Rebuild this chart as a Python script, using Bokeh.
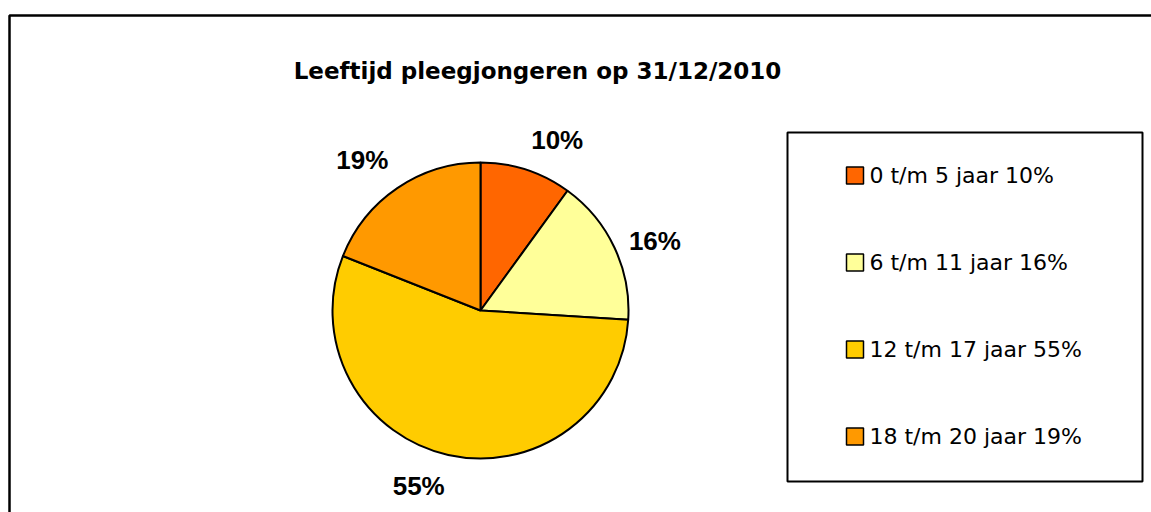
import numpy as np
from bokeh.plotting import figure
from bokeh.models import ColumnDataSource, Range1d
from bokeh.core.properties import value
from bokeh.embed import file_html
from bokeh.resources import INLINE

# ---------------- data ----------------
title = "Leeftijd pleegjongeren op 31/12/2010"
categories = ["0 t/m 5 jaar", "6 t/m 11 jaar", "12 t/m 17 jaar", "18 t/m 20 jaar"]
percentages = [10, 16, 55, 19]
colors = ["#FF6600", "#FFFF99", "#FFCC00", "#FF9900"]

# ---------------- layout ----------------
W, H = 1151, 512
TITLE_FONT = "DejaVu Sans"
LEGEND_FONT = "DejaVu Sans"
LABEL_FONT = "Liberation Sans"

p = figure(width=W, height=H, x_range=Range1d(0, W), y_range=Range1d(0, H),
           output_backend="svg", toolbar_location=None, min_border=0,
           x_axis_location=None, y_axis_location=None)
p.grid.visible = False
p.outline_line_color = None
p.background_fill_color = "white"
p.border_fill_color = "white"

# outer chart border (cropped at right and bottom)
p.line(x=[9, 9, W + 10], y=[-10, 497, 497], line_color="black", line_width=2.5)

# title
p.text(x=[537], y=[442], text=[title], text_font=value(TITLE_FONT),
       text_font_style="bold", text_font_size="23px", text_align="center",
       text_baseline="alphabetic", text_color="black")

# ---------------- pie ----------------
cx, cy, R = 480, 202, 148
vals = np.array(percentages, dtype=float)
frac = vals / vals.sum()
cum_end = np.cumsum(frac)
cum_start = cum_end - frac
start = np.pi / 2 - 2 * np.pi * cum_end
end = np.pi / 2 - 2 * np.pi * cum_start
mid = (start + end) / 2

src = ColumnDataSource(dict(start=start, end=end, color=colors,
                            cat=categories, x=[cx] * 4, y=[cy] * 4))
p.wedge(x="x", y="y", radius=R, radius_units="screen",
        start_angle="start", end_angle="end", fill_color="color",
        line_color="black", line_width=2, source=src)

# percentage labels, anchored outside the slice
gap = 16
lx = cx + (R + gap) * np.cos(mid)
ly = cy + (R + gap) * np.sin(mid)
aligns = ["left" if c > 0 else "right" for c in np.cos(mid)]
bases = ["bottom" if s > 0.5 else ("top" if s < -0.5 else "middle") for s in np.sin(mid)]
lab_text = [f"{v:.0f}%" for v in percentages]
for i in range(len(percentages)):
    p.text(x=[lx[i]], y=[ly[i]], text=[lab_text[i]], text_font=value(LABEL_FONT),
           text_font_style="bold", text_font_size="26px",
           text_align=aligns[i], text_baseline=bases[i], text_color="black")

# ---------------- legend ----------------
p.quad(left=[787], right=[1142], bottom=[31], top=[380],
       fill_color="white", line_color="black", line_width=2)
step = 87
ly0 = 337
leg_y = [ly0 - i * step for i in range(len(categories))]
leg_src = ColumnDataSource(dict(x=[854.5] * 4, y=leg_y, color=colors,
                                tx=[869] * 4,
                                label=[f"{c} {v}%" for c, v in zip(categories, percentages)]))
p.rect(x="x", y="y", width=17, height=17, width_units="screen", height_units="screen",
       fill_color="color", line_color="black", line_width=1.5, source=leg_src)
p.text(x="tx", y="y", text="label", text_font=value(LEGEND_FONT), text_font_size="22px",
       text_align="left", text_baseline="middle", text_color="black", source=leg_src)

open("out.html", "w").write(file_html(p, INLINE))
